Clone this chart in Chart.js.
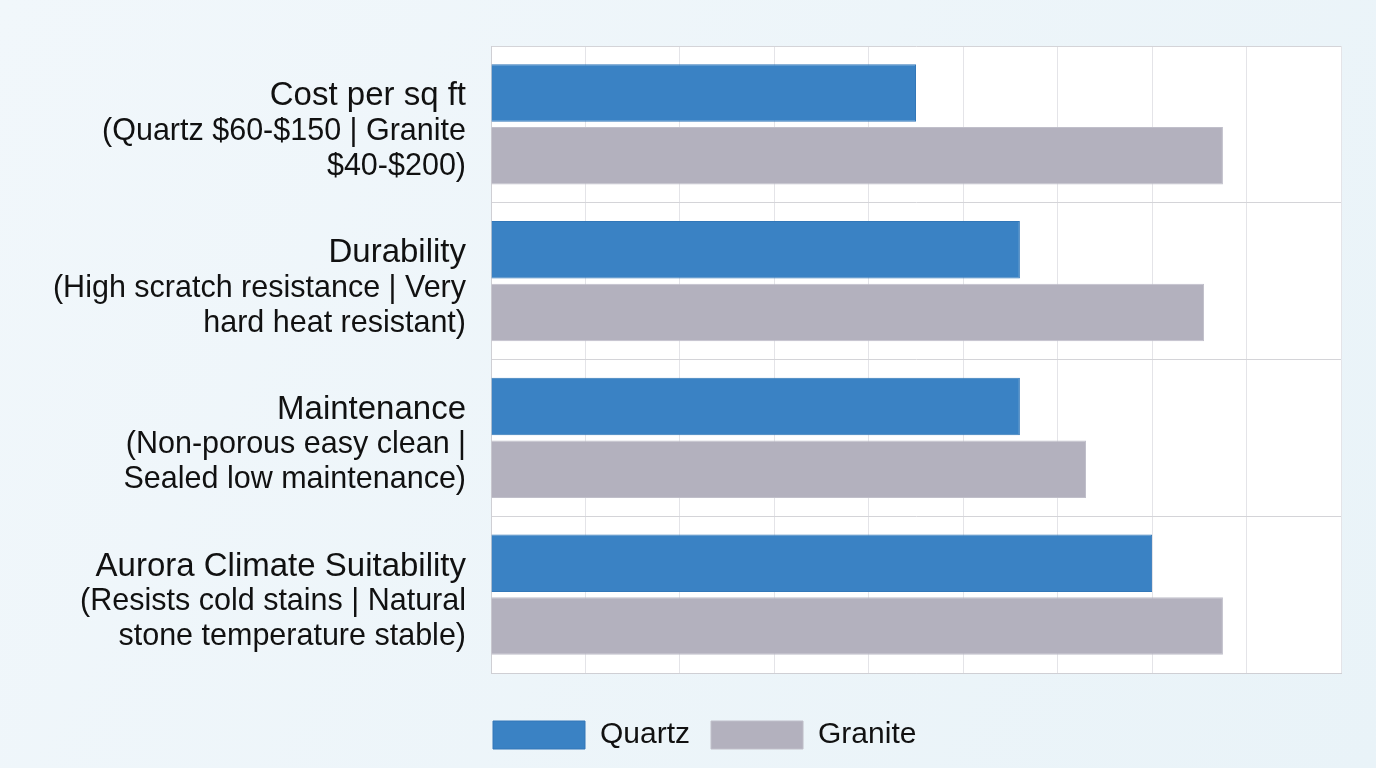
<!DOCTYPE html>
<html>
<head>
<meta charset="utf-8">
<script src="https://cdn.jsdelivr.net/npm/chart.js@4/dist/chart.umd.min.js"></script>
<style>
  html, body { margin: 0; padding: 0; background: #eef5fa; }
  #wrap { width: 1376px; height: 768px; }
</style>
</head>
<body>
<div id="wrap"><canvas id="chart" width="1376" height="768"></canvas></div>
<script>
// Data
const categories = [
  ['Cost per sq ft', '(Quartz $60-$150 | Granite', '$40-$200)'],
  ['Durability', '(High scratch resistance | Very', 'hard heat resistant)'],
  ['Maintenance', '(Non-porous easy clean |', 'Sealed low maintenance)'],
  ['Aurora Climate Suitability', '(Resists cold stains | Natural', 'stone temperature stable)']
];
const quartzValues = [4.5, 5.6, 5.6, 7.0];
const graniteValues = [7.75, 7.55, 6.3, 7.75];

const fontFamily = "'Liberation Sans', Arial, sans-serif";

// Latar belakang halaman dan area plot putih
const backdrop = {
  id: 'backdrop',
  beforeDraw(chart) {
    const {ctx, width, height, chartArea: {left, top, right, bottom}} = chart;
    ctx.save();
    const g = ctx.createLinearGradient(0, 0, width, height);
    g.addColorStop(0, '#f1f7fb');
    g.addColorStop(1, '#e9f3f8');
    ctx.fillStyle = g;
    ctx.fillRect(0, 0, width, height);
    ctx.fillStyle = '#ffffff';
    ctx.fillRect(left, top, right - left, bottom - top);
    ctx.restore();
  },
  afterLayout(chart) {
    // geser legenda supaya sejajar dengan tepi kiri plot
    chart.legend.left -= 19;
    chart.legend.right -= 19;
  }
};

// Label kategori: baris pertama sedikit lebih besar
const categoryLabels = {
  id: 'categoryLabels',
  afterDraw(chart) {
    const {ctx, chartArea: {left}} = chart;
    const yScale = chart.scales.y;
    ctx.save();
    ctx.fillStyle = '#111111';
    ctx.textAlign = 'right';
    ctx.textBaseline = 'middle';
    chart.data.labels.forEach((lines, i) => {
      const cy = yScale.getPixelForTick(i) + 7;
      lines.forEach((line, j) => {
        ctx.font = (j === 0 ? '33px ' : '30.5px ') + fontFamily;
        ctx.fillText(line, left - 25, cy + (j - 1) * 35);
      });
    });
    ctx.restore();
  }
};

new Chart(document.getElementById('chart'), {
  type: 'bar',
  data: {
    labels: categories,
    datasets: [{
      label: 'Quartz',
      data: quartzValues,
      backgroundColor: '#3a82c4',
      borderColor: '#3277b8',
      borderWidth: 1,
      categoryPercentage: 0.8,
      barPercentage: 0.92
    }, {
      label: 'Granite',
      data: graniteValues,
      backgroundColor: '#b3b1be',
      borderColor: '#c0bfca',
      borderWidth: 1,
      categoryPercentage: 0.8,
      barPercentage: 0.92
    }]
  },
  options: {
    indexAxis: 'y',
    responsive: false,
    animation: false,
    layout: { padding: { left: 40, right: 35, top: 46, bottom: 8 } },
    scales: {
      x: {
        min: 0,
        max: 9,
        ticks: { display: false, stepSize: 1 },
        grid: { color: '#e4e4e8', drawTicks: false },
        border: { color: '#cfcfd4' },
        // ruang kosong antara plot dan legenda
        afterFit(axis) { axis.height += 26; }
      },
      y: {
        afterFit(axis) {
          axis.width = 451;
          axis.paddingTop = 0;
          axis.paddingBottom = 0;
        },
        ticks: { display: false },
        grid: { color: '#d4d4d8', drawTicks: false, offset: true },
        border: { color: '#cfcfd4' }
      }
    },
    plugins: {
      legend: {
        position: 'bottom',
        align: 'start',
        fullSize: false,
        labels: {
          boxWidth: 92,
          boxHeight: 28,
          padding: 21,
          color: '#111111',
          font: { family: fontFamily, size: 30 }
        }
      },
      tooltip: { enabled: false }
    }
  },
  plugins: [backdrop, categoryLabels]
});
</script>
</body>
</html>
